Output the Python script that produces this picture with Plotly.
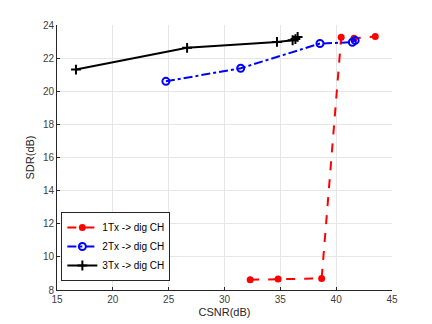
import plotly.graph_objects as go

# series
csnr_1tx = [32.3, 34.8, 38.7, 40.45, 41.6, 43.5]
sdr_1tx = [8.62, 8.66, 8.7, 23.26, 23.2, 23.3]

csnr_2tx = [24.75, 31.45, 38.55, 41.45, 41.7]
sdr_2tx = [20.6, 21.39, 22.88, 22.96, 23.07]

csnr_3tx = [16.7, 26.65, 34.7, 36.1, 36.35, 36.55]
sdr_3tx = [21.31, 22.62, 22.98, 23.08, 23.15, 23.28]

labels = ['1Tx -> dig CH', '2Tx -> dig CH', '3Tx -> dig CH']

fig = go.Figure()
fig.add_trace(go.Scatter(x=csnr_1tx, y=sdr_1tx, name=labels[0], mode='lines+markers',
                         line=dict(color='#ff0000', width=2, dash='dash'),
                         marker=dict(symbol='circle', size=7, color='#ff0000')))
fig.add_trace(go.Scatter(x=csnr_2tx, y=sdr_2tx, name=labels[1], mode='lines+markers',
                         line=dict(color='#0000ff', width=2, dash='dashdot'),
                         marker=dict(symbol='circle-open', size=7, color='#0000ff',
                                     line=dict(width=2))))
fig.add_trace(go.Scatter(x=csnr_3tx, y=sdr_3tx, name=labels[2], mode='lines+markers',
                         line=dict(color='#000000', width=2),
                         marker=dict(symbol='cross-thin-open', size=7, color='#000000',
                                     line=dict(width=2, color='#000000'))))

axis_style = dict(showgrid=True, gridcolor='#e6e6e6', gridwidth=1,
                  showline=True, linecolor='#262626', linewidth=1,
                  ticks='inside', ticklen=3, tickcolor='#262626',
                  tickfont=dict(family='Liberation Sans, Arial', size=10, color='#404040'),
                  zeroline=False, mirror=False, automargin=False)

fig.update_xaxes(range=[15, 45], dtick=5, title=dict(text='CSNR(dB)', standoff=4,
                 font=dict(family='Liberation Sans, Arial', size=11, color='#262626')),
                 **axis_style)
fig.update_yaxes(range=[8, 24], dtick=2, title=dict(text='SDR(dB)', standoff=6,
                 font=dict(family='Liberation Sans, Arial', size=11, color='#262626')),
                 **axis_style)

fig.update_layout(
    width=432, height=324,
    margin=dict(l=49, r=48, t=17, b=42),
    paper_bgcolor='white', plot_bgcolor='white',
    showlegend=True,
    legend=dict(x=0.013, y=0.034, xanchor='left', yanchor='bottom',
                bgcolor='white', bordercolor='#262626', borderwidth=1,
                font=dict(family='Liberation Sans, Arial', size=10, color='#000000'),
                tracegroupgap=0, itemwidth=30),
)

fig.write_html('out.html')
